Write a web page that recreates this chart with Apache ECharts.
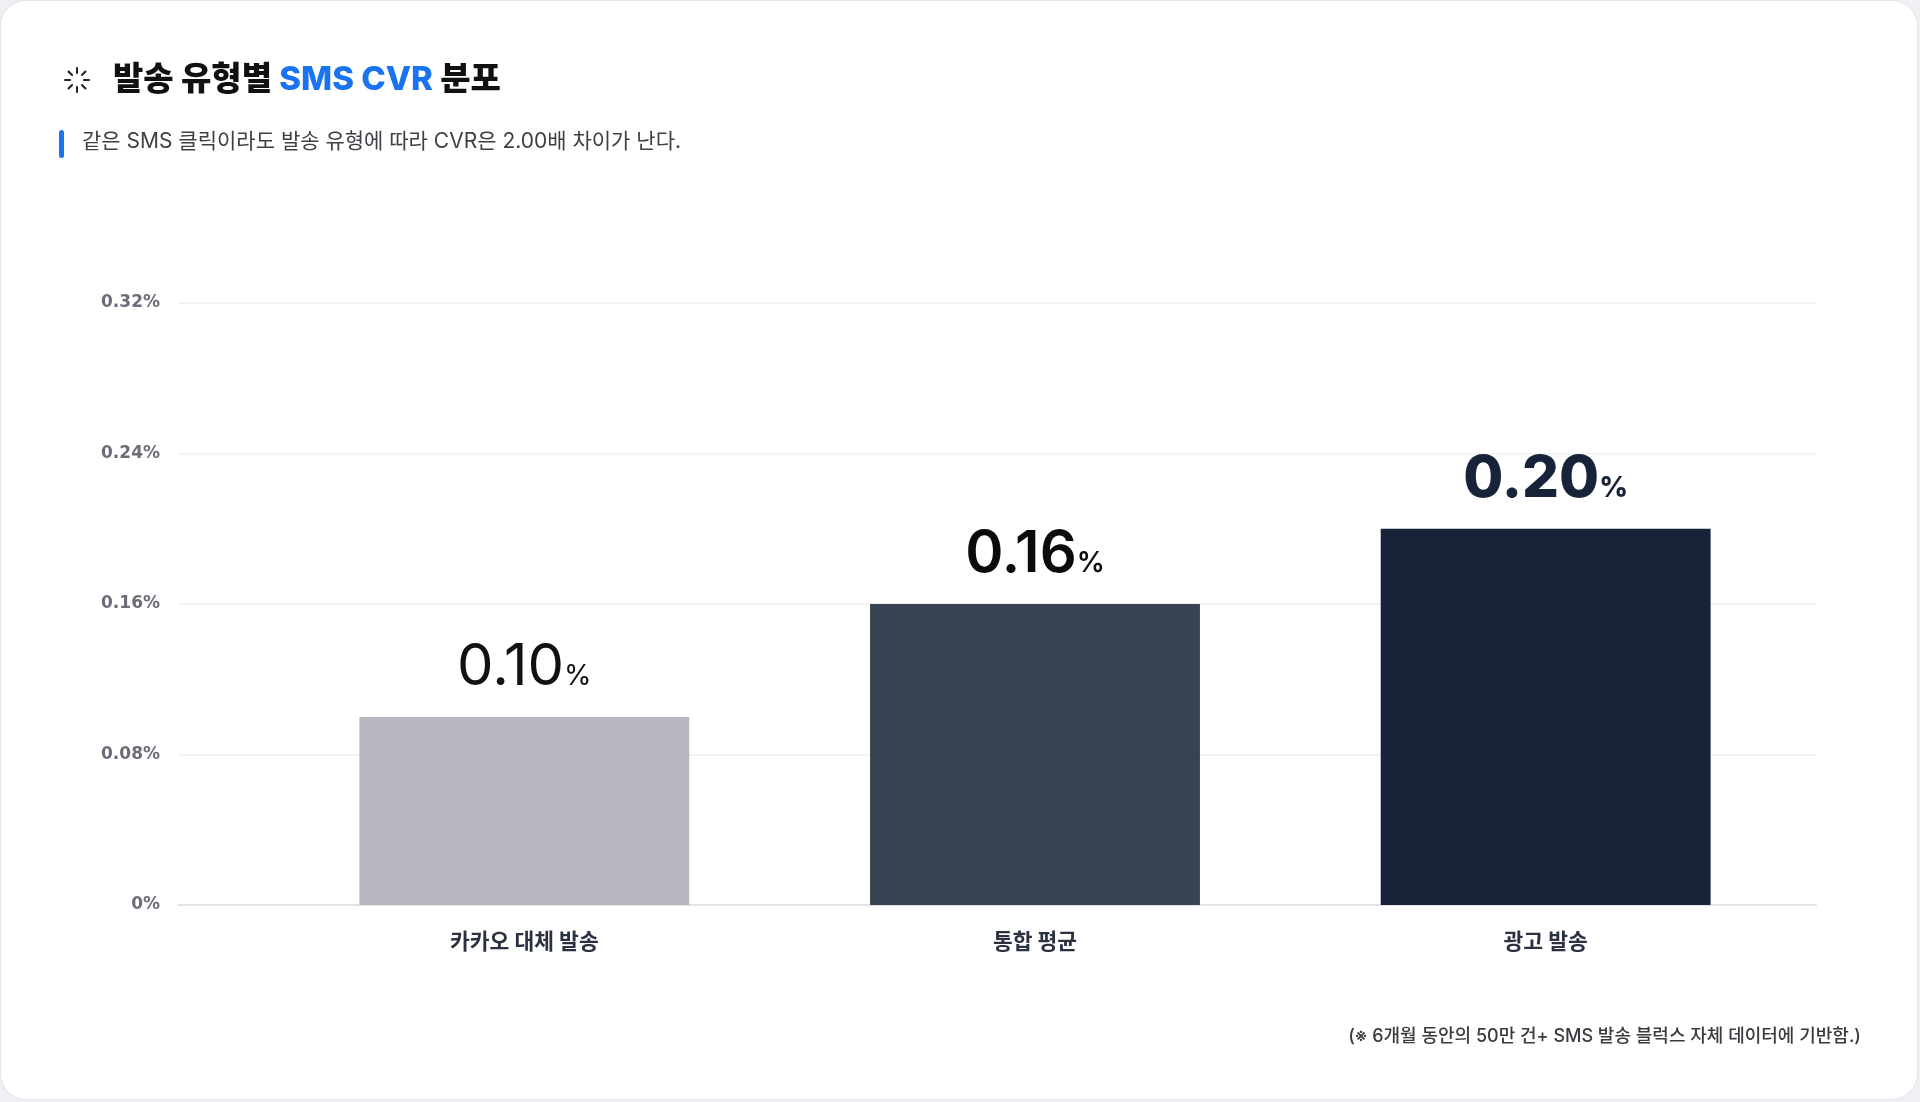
<!DOCTYPE html>
<html>
<head>
<meta charset="utf-8">
<script src="https://cdn.jsdelivr.net/npm/echarts@6/dist/echarts.min.js"></script>
<style>
  html, body { margin: 0; padding: 0; background: #eef0f3; }
  #chart {
    position: absolute; left: 0; top: 0;
    width: 1916px; height: 1098px;
    background: #fff;
    border: 1px solid #e2e4e8;
    border-radius: 26px;
    overflow: hidden;
  }
</style>
</head>
<body>
<div id="chart"></div>
<script>
// data
var categories = ['카카오 대체 발송', '통합 평균', '광고 발송'];
var cvrValues = [0.10, 0.16, 0.20];
var yTicks = [0, 0.08, 0.16, 0.24, 0.32];

// looks for each bar
var barColors = ['#b7b8c0', '#384352', '#172339'];
var labelColors = ['#111111', '#0b0b0b', '#172339'];
var labelWeights = [400, 600, 800];

var KR = '"Inter", "Noto Sans CJK KR", sans-serif';
var yMin = yTicks[0], yMax = yTicks[yTicks.length - 1], yStep = yTicks[1] - yTicks[0];

var chart = echarts.init(document.getElementById('chart'));

// little spinner icon next to the title
function spinner(cx, cy) {
    var items = [];
    for (var i = 0; i < 8; i++) {
        var a = i * Math.PI / 4;
        items.push({
            type: 'line',
            shape: {
                x1: cx + Math.cos(a) * 7, y1: cy + Math.sin(a) * 7,
                x2: cx + Math.cos(a) * 12, y2: cy + Math.sin(a) * 12
            },
            style: { stroke: '#222', lineWidth: 2, lineCap: 'round' }
        });
    }
    return items;
}

var barData = cvrValues.map(function (v, i) {
    return {
        value: v,
        itemStyle: { color: barColors[i] },
        label: {
            rich: {
                v: { fontSize: 58, fontWeight: labelWeights[i], color: labelColors[i], fontFamily: KR, lineHeight: 60, verticalAlign: 'bottom' },
                p: { fontSize: 28, fontWeight: labelWeights[i], color: labelColors[i], fontFamily: KR, lineHeight: 34, verticalAlign: 'bottom', padding: [0, 0, 6, 0] }
            }
        }
    };
});

var option = {
    animation: false,
    title: {
        text: '{a|발송 유형별 }{b|SMS CVR}{a| 분포}',
        left: 107,
        top: 58,
        textStyle: {
            rich: {
                a: { fontSize: 33, fontWeight: 800, color: '#111', fontFamily: KR },
                b: { fontSize: 33, fontWeight: 800, color: '#1a73f0', fontFamily: KR }
            }
        }
    },
    graphic: [].concat(spinner(76, 79), [
        {
            type: 'rect',
            shape: { x: 58, y: 129, width: 5, height: 28, r: 2.5 },
            style: { fill: '#1a73f0' }
        },
        {
            type: 'text',
            left: 81, top: 130,
            style: {
                text: '같은 SMS 클릭이라도 발송 유형에 따라 CVR은 2.00배 차이가 난다.',
                font: '400 21px ' + KR,
                fill: '#3f3f46'
            }
        },
        {
            type: 'text',
            right: 56, top: 1027,
            style: {
                text: '(※ 6개월 동안의 50만 건+ SMS 발송 블럭스 자체 데이터에 기반함.)',
                font: '500 18px ' + KR,
                fill: '#3a3a40'
            }
        }
    ]),
    // grid 0: full-width gridlines and y labels, grid 1: the bars
    grid: [
        { left: 177, right: 101, top: 302, bottom: 194 },
        { left: 268, right: 116, top: 302, bottom: 194 }
    ],
    xAxis: [
        {
            type: 'value', gridIndex: 0, min: 0, max: 1,
            axisLabel: { show: false }, axisTick: { show: false }, splitLine: { show: false },
            axisLine: { show: true, lineStyle: { color: '#e3e4e8', width: 2 } }
        },
        {
            type: 'category', gridIndex: 1,
            data: categories,
            axisTick: { show: false },
            axisLine: { show: false },
            axisLabel: { color: '#2a3140', fontSize: 21.5, fontWeight: 700, fontFamily: KR, margin: 27 }
        }
    ],
    yAxis: [
        {
            type: 'value', gridIndex: 0,
            min: yMin, max: yMax, interval: yStep,
            axisLine: { show: false },
            axisTick: { show: false },
            splitLine: { lineStyle: { color: '#efeff1', width: 1.5 } },
            axisLabel: {
                color: '#6b6e78', fontSize: 17, fontWeight: 700,
                fontFamily: '"DejaVu Sans", sans-serif', margin: 18,
                formatter: function (v) { return v === 0 ? '0%' : v.toFixed(2) + '%'; }
            }
        },
        {
            type: 'value', gridIndex: 1,
            min: yMin, max: yMax, interval: yStep,
            axisLine: { show: false }, axisTick: { show: false },
            axisLabel: { show: false }, splitLine: { show: false }
        }
    ],
    series: [{
        type: 'bar',
        xAxisIndex: 1,
        yAxisIndex: 1,
        data: barData,
        barWidth: '64.6%',
        label: {
            show: true,
            position: 'top',
            distance: 20,
            formatter: function (p) { return '{v|' + p.value.toFixed(2) + '}{p|%}'; }
        }
    }]
};

chart.setOption(option);
</script>
</body>
</html>
